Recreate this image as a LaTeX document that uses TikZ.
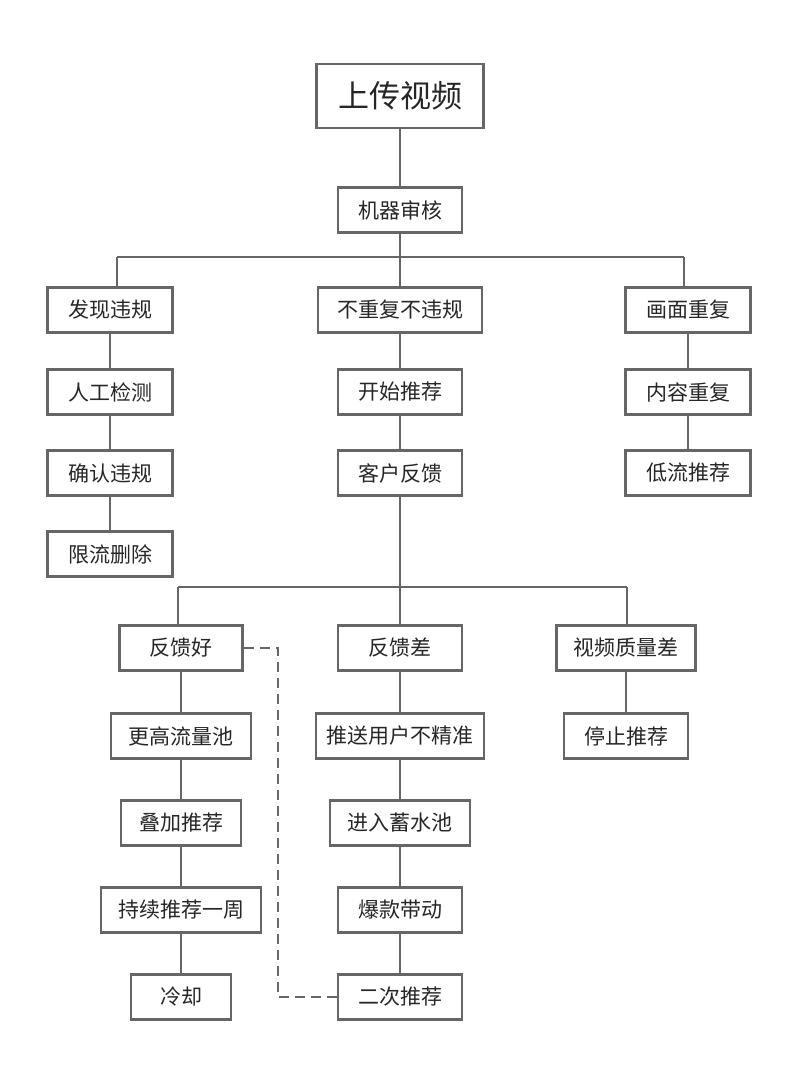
\documentclass[tikz,border=0pt]{standalone}
\usepackage{fontspec}
\setmainfont{Noto Sans CJK SC}
\usetikzlibrary{calc}
\definecolor{linegray}{HTML}{666666}
\begin{document}
\begin{tikzpicture}[x=1pt,y=-1pt,
    box/.style={draw=linegray, line width=2.2pt, minimum height=45pt, inner sep=0pt, font=\fontsize{21}{21}\selectfont, text=black!85},
    link/.style={draw=linegray, line width=2pt}]
    \useasboundingbox (0,0) rectangle (800,1069);

    \node[box, minimum width=167pt, minimum height=64pt, font=\fontsize{31}{31}\selectfont] (upload) at (400,96) {上传视频};
    \node[box, minimum width=124pt] (check) at (400,210) {机器审核};

    \node[box, minimum width=125pt] (viol) at (110,310) {发现违规};
    \node[box, minimum width=164pt] (ok) at (400,310) {不重复不违规};
    \node[box, minimum width=125pt] (dup) at (688,310) {画面重复};

    \node[box, minimum width=125pt] (manual) at (110,392) {人工检测};
    \node[box, minimum width=125pt] (confirm) at (110,473) {确认违规};
    \node[box, minimum width=125pt] (limit) at (110,554) {限流删除};

    \node[box, minimum width=124pt] (start) at (400,392) {开始推荐};
    \node[box, minimum width=124pt] (feedback) at (400,473) {客户反馈};

    \node[box, minimum width=125pt] (content) at (688,392) {内容重复};
    \node[box, minimum width=125pt] (low) at (688,473) {低流推荐};

    \node[box, minimum width=123pt] (good) at (181,648) {反馈好};
    \node[box, minimum width=124pt] (bad) at (400,648) {反馈差};
    \node[box, minimum width=139pt] (poor) at (626,648) {视频质量差};

    \node[box, minimum width=140pt] (pool) at (181,736) {更高流量池};
    \node[box, minimum width=120pt] (stack) at (181,823) {叠加推荐};
    \node[box, minimum width=160pt] (week) at (181,910) {持续推荐一周};
    \node[box, minimum width=100pt] (cool) at (181,997) {冷却};

    \node[box, minimum width=168pt] (miss) at (400,736) {推送用户不精准};
    \node[box, minimum width=140pt] (store) at (400,823) {进入蓄水池};
    \node[box, minimum width=124pt] (hit) at (400,910) {爆款带动};
    \node[box, minimum width=124pt] (again) at (400,997) {二次推荐};

    \node[box, minimum width=124pt] (stop) at (626,736) {停止推荐};

    \draw[link] (upload) -- (check);
    \draw[link] (check) -- (400,257);
    \draw[link] (117,257) -- (684,257);
    \draw[link] (117,257) -- (viol.north -| 117,0);
    \draw[link] (400,257) -- (ok);
    \draw[link] (684,257) -- (dup.north -| 684,0);

    \draw[link] (viol) -- (manual);
    \draw[link] (manual) -- (confirm);
    \draw[link] (confirm) -- (limit);
    \draw[link] (ok) -- (start);
    \draw[link] (start) -- (feedback);
    \draw[link] (dup) -- (content);
    \draw[link] (content) -- (low);

    \draw[link] (feedback) -- (400,587);
    \draw[link] (178,587) -- (627,587);
    \draw[link] (178,587) -- (good.north -| 178,0);
    \draw[link] (400,587) -- (bad);
    \draw[link] (627,587) -- (poor.north -| 627,0);

    \draw[link] (good) -- (pool);
    \draw[link] (pool) -- (stack);
    \draw[link] (stack) -- (week);
    \draw[link] (week) -- (cool);
    \draw[link] (bad) -- (miss);
    \draw[link] (miss) -- (store);
    \draw[link] (store) -- (hit);
    \draw[link] (hit) -- (again);
    \draw[link] (poor) -- (stop);

    \draw[link, dash pattern=on 10pt off 6pt] (good.east) -- (278,648) -- (278,997) -- (again.west);
\end{tikzpicture}
\end{document}
